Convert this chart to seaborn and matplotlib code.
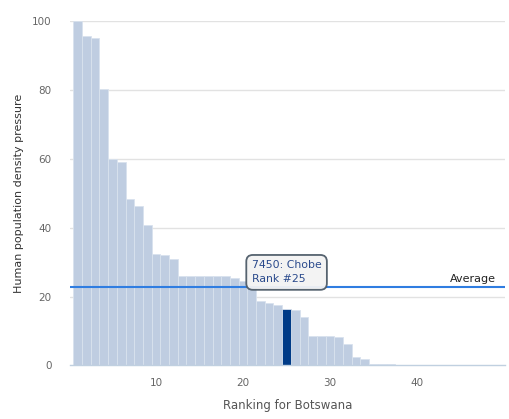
import numpy as np
import pandas as pd
import matplotlib
matplotlib.use("Agg")
import matplotlib.pyplot as plt
import seaborn as sns

# ranking data
ranks = list(range(1, 50))
pressure = [100, 95.6, 94.9, 80.1, 59.8, 58.9, 48.4, 46.3, 40.7, 32.4,
            32.0, 31.0, 25.9, 25.9, 25.9, 25.9, 25.9, 25.9, 25.5, 24.6,
            23.0, 18.7, 18.2, 17.5, 16.4, 16.1, 14.2, 8.6, 8.6, 8.6,
            8.2, 6.2, 2.4, 2.0, 0.5, 0.5, 0.5, 0, 0, 0,
            0, 0, 0, 0, 0, 0, 0, 0, 0]
highlight_rank = 25
highlight_label = "7450: Chobe\nRank #25"
average = 22.7
x_ticks = [10, 20, 30, 40]
y_ticks = [0, 20, 40, 60, 80, 100]

df = pd.DataFrame({"rank": ranks, "pressure": pressure})
df["sel"] = np.where(df["rank"] == highlight_rank, "sel", "other")

sns.set_style("white")
plt.rcParams["font.family"] = ["DejaVu Sans"]

fig = plt.figure(figsize=(5.1, 4.19), dpi=100)
ax = fig.add_axes([0.137, 0.1277, 0.853, 0.823])

sns.barplot(data=df, x="rank", y="pressure", hue="sel",
            palette={"other": "#bfcde1", "sel": "#003b87"}, saturation=1,
            native_scale=True, width=1.0, dodge=False, legend=False,
            edgecolor="#d9e2ee", linewidth=0.6, ax=ax, zorder=2)

ax.set_xlim(0.1, 50.1)
ax.set_ylim(0, 100)
ax.set_xticks(x_ticks)
ax.set_yticks(y_ticks)
ax.set_xticklabels([str(t) for t in x_ticks])
ax.set_yticklabels([str(t) for t in y_ticks])

for t in y_ticks[1:]:
    ax.axhline(t, color="#e2e2e2", lw=1, zorder=1)

for s in ["top", "right", "left"]:
    ax.spines[s].set_visible(False)
ax.spines["bottom"].set_color("#c0d0e0")
ax.spines["bottom"].set_linewidth(1)

ax.tick_params(axis="x", length=5, width=1, color="#c0d0e0", labelcolor="#666666",
               labelsize=7.5, pad=4)
ax.tick_params(axis="y", length=4, width=1, color="#c0c0c0", labelcolor="#666666",
               labelsize=7.5, pad=9)

ax.set_xlabel("Ranking for Botswana", fontsize=8.5, color="#555555", labelpad=8)
ax.set_ylabel("Human population density pressure", fontsize=8, color="#333333", labelpad=6)

ax.axhline(average, color="#2f7de1", lw=1.5, zorder=3)
ax.text(49.1, average + 0.8, "Average", ha="right", va="bottom", fontsize=8, color="#222222")

ax.text(21.0, 27.0, highlight_label, ha="left", va="center", fontsize=7.8,
        color="#2a4a8c", linespacing=1.5, zorder=5,
        bbox=dict(boxstyle="round,pad=0.5,rounding_size=0.6", fc="#f3f3f3",
                  ec="#4d5b68", lw=1.3, alpha=0.95))

fig.savefig("out.png", dpi=100)
